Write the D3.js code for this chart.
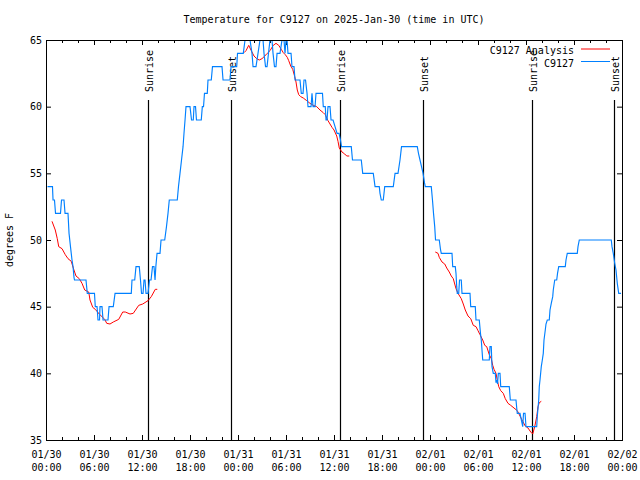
<!DOCTYPE html>
<html><head><meta charset="utf-8">
<script src="https://cdn.jsdelivr.net/npm/d3@7"></script>
<style>
body{margin:0;background:#fff}
text{font-family:"DejaVu Sans Mono","Liberation Mono",monospace;font-size:10px;fill:#000}
</style>
</head><body>
<svg id="chart" width="640" height="480"></svg>
<script>
const title = "Temperature for C9127 on 2025-Jan-30 (time in UTC)";
const yLabel = "degrees F";
const seriesNames = ["C9127 Analysis", "C9127"];
const startUTC = Date.UTC(2025, 0, 30, 0, 0);
const spanHours = 72;
const yTicks = [35, 40, 45, 50, 55, 60, 65];

// Observations (hours since 01/30 00:00 UTC, deg F)
const obsHours = [0.19,0.81,0.88,1.06,1.19,1.81,1.94,2.25,2.38,2.75,2.88,3.06,3.25,3.38,3.5,3.56,5.0,5.16,6.06,6.16,6.38,6.5,6.69,6.75,7.0,7.13,7.75,7.88,8.41,8.63,10.66,10.75,11.09,11.25,11.66,11.81,11.94,12.13,12.25,12.38,12.5,12.75,12.94,13.13,13.31,13.5,13.63,13.73,13.88,14.25,14.38,14.84,15.06,15.25,15.41,16.41,16.56,16.75,16.94,17.13,17.25,17.38,17.5,18.0,18.19,18.41,18.5,18.69,18.81,19.41,19.54,19.69,19.81,20.16,20.25,20.66,20.81,22.0,22.13,23.0,23.13,23.84,23.94,24.66,24.88,25.5,25.75,25.88,26.25,26.5,26.75,27.13,27.25,27.44,27.63,27.81,28.0,28.25,28.38,28.56,28.75,28.88,29.25,29.5,29.75,29.88,30.0,30.13,30.25,30.63,30.75,31.0,31.13,31.75,31.91,32.13,32.25,32.44,32.63,32.75,33.13,33.25,33.38,33.63,33.75,34.56,34.66,34.91,35.0,35.13,35.25,35.5,35.63,35.88,36.13,36.38,36.63,36.81,36.94,38.16,38.31,39.41,39.59,40.91,41.13,41.66,41.75,41.91,42.16,42.34,43.41,43.63,44.0,44.25,44.44,46.41,46.56,46.75,46.94,47.13,47.31,47.41,48.16,48.31,48.44,48.59,48.69,49.16,49.31,49.41,50.75,50.84,51.16,51.25,51.34,51.41,51.59,51.69,51.91,52.0,53.0,53.09,53.66,53.75,54.16,54.31,54.41,54.59,55.41,55.5,55.66,55.75,55.91,56.16,56.25,56.34,56.44,56.54,56.75,56.84,57.91,58.04,58.75,58.84,58.91,59.25,59.59,59.69,59.88,60.0,61.34,61.41,61.59,61.66,61.75,61.91,62.04,62.16,62.25,62.41,62.5,62.66,62.91,63.0,63.16,63.34,63.41,63.59,63.84,63.94,64.09,64.91,65.0,65.16,66.41,66.5,66.66,70.66,70.75,70.91,71.09,71.25,71.41,71.59,71.88];
const obsTemps = [54,54,53,53,52,52,53,53,52,52,50.5,49.5,48.5,48,47.2,47,47,46,46,45,45,44,44,45,45,44,44,45,45,46,46,47,47,48,48,47,46,46,47,47,46,46,47,47,48,48,47,48,49,49,50,50,51,52,53,53,54,55,56,57,58,59,60,60,59,59,60,60,59,59,60,60,61,61,62,62,63,63,62,62,63,63,64,64,65,65,64,63,63,64,65,65,64,63,63,64,65,65,64,63,63,64,64,65,65,64,65,65,64,64,63,63,62,62,61,61,62,62,61,60,60,61,60,60,61,61,60,60,59,59,60,60,59,59,58.5,58,58,57.5,57,57,56,56,55,55,54,54,53.5,53,53,54,54,55,55,56,57,57,56.5,56,55.5,55,54.3,54,54,53,52,51,50,50,49.3,49,49,48,48,47.5,46.5,46,46,47,47,46,46,45,45,44,44,43,42.5,41,41,42,42,40.5,40,40,39.3,39.5,39.2,40,40,39,39,38,38,37.4,37,37,36,37,37,36,36,36.75,38,39,39.5,40.5,41,41.5,42.5,43.25,43.7,44,44,44.75,45.25,45.75,46.25,47,47,47.5,48,48,48.5,49,49,49.5,50,50,49.5,49,48.25,47.75,46.75,46,46];

// Analysis (null = gap)
const anaHours = [0.75,1.16,1.41,1.59,2.0,2.41,2.75,3.16,3.41,3.75,4.16,4.5,4.84,5.34,5.5,5.84,6.16,6.66,7.0,7.34,7.59,8.0,8.41,9.09,9.59,9.91,10.5,10.91,11.59,12.09,12.75,13.16,13.66,13.91,null,24.75,25.0,25.34,25.66,26.0,26.34,26.66,27.0,27.34,27.66,28.0,28.41,28.75,29.09,29.41,29.66,29.91,30.16,30.34,30.59,30.84,31.09,31.25,31.41,31.59,31.84,32.16,32.59,33.0,33.41,33.84,34.25,34.66,34.91,35.25,35.5,35.75,36.0,36.34,36.5,36.66,37.0,37.34,37.59,37.91,null,48.66,49.0,49.16,49.5,49.84,50.09,50.41,50.66,50.91,51.09,51.25,51.5,51.91,52.16,52.41,52.75,53.09,53.41,53.75,54.0,54.25,54.59,54.84,55.09,55.41,55.66,55.84,56.0,56.25,56.41,56.59,56.84,57.16,57.41,57.75,58.09,58.5,58.91,59.25,59.59,59.91,60.25,60.59,60.84,61.09,61.34,61.5,61.66,61.91];
const anaTemps = [51.4,50.75,50.1,49.5,49.35,48.9,48.6,48.4,47.9,47.3,47.1,46.75,46.25,46.1,45.5,44.95,44.8,44.45,44.25,44.05,43.75,43.7,43.85,44.05,44.6,44.6,44.45,44.5,45.1,45.2,45.45,45.75,46.3,46.3,null,64.05,64.2,64.6,64.2,63.8,63.6,63.5,63.6,63.8,64.0,64.2,64.6,64.75,64.6,64.3,64.05,63.9,63.7,63.45,63.05,62.8,62.25,61.85,61.25,60.9,60.75,60.65,60.45,60.25,60.1,60.0,59.75,59.55,59.4,58.95,58.7,58.45,58.25,57.8,57.4,56.9,56.6,56.45,56.3,56.3,null,49.1,49.0,48.7,48.35,48.2,47.9,47.6,47.3,47.1,46.7,46.35,46.0,45.6,45.2,44.75,44.3,44.1,43.6,43.5,43.2,42.9,42.5,42.1,42.0,41.4,41.1,40.6,40.3,40.0,39.5,39.0,38.7,38.5,38.1,37.75,37.6,37.4,37.2,36.8,36.4,36.05,35.9,35.6,35.45,36.0,36.75,37.5,37.8,37.9];

// Sun events
const sunHours = [12.75, 23.15, 36.78, 47.15, 60.78, 71.04];
const sunLabels = ["Sunrise", "Sunset", "Sunrise", "Sunset", "Sunrise", "Sunset"];

const hToDate = h => new Date(startUTC + h * 3600e3);
const L = 46, R = 622, T = 40, B = 440;
const svg = d3.select("#chart");
const x = d3.scaleUtc().domain([hToDate(0), hToDate(spanHours)]).range([L, R]);
const y = d3.scaleLinear().domain([35, 65]).range([B, T]);

const t0 = hToDate(0), t1 = hToDate(spanHours);
const major = d3.utcHour.every(6).range(t0, new Date(+t1 + 1));
const minor = d3.utcHour.every(2).range(t0, new Date(+t1 + 1)).filter(d => d.getUTCHours() % 6 !== 0);

// minor ticks
svg.append("g").attr("transform", `translate(0,${B})`)
  .call(d3.axisBottom(x).tickValues(minor).tickSize(-3).tickFormat("").offset(0.5))
  .call(g => g.select(".domain").remove());
svg.append("g").attr("transform", `translate(0,${T})`)
  .call(d3.axisTop(x).tickValues(minor).tickSize(-3).tickFormat("").offset(0.5))
  .call(g => g.select(".domain").remove());

// major x ticks
const f1 = d3.utcFormat("%m/%d"), f2 = d3.utcFormat("%H:%M");
const gx = svg.append("g").attr("transform", `translate(0,${B})`)
  .call(d3.axisBottom(x).tickValues(major).tickSize(-5).tickFormat(f1).offset(0.5));
gx.select(".domain").remove();
gx.selectAll(".tick text").each(function(d) {
  const t = d3.select(this);
  t.text(null).attr("y", 18).attr("dy", null);
  t.append("tspan").attr("x", 0).text(f1(d));
  t.append("tspan").attr("x", 0).attr("dy", 13).text(f2(d));
});
svg.append("g").attr("transform", `translate(0,${T})`)
  .call(d3.axisTop(x).tickValues(major).tickSize(-5).tickFormat("").offset(0.5))
  .call(g => g.select(".domain").remove());

// y ticks
const gy = svg.append("g").attr("transform", `translate(${L},0)`)
  .call(d3.axisLeft(y).tickValues(yTicks).tickSize(-5).tickPadding(4).offset(0.5));
gy.select(".domain").remove();
svg.append("g").attr("transform", `translate(${R},0)`)
  .call(d3.axisRight(y).tickValues(yTicks).tickSize(-5).tickFormat("").offset(0.5))
  .call(g => g.select(".domain").remove());
svg.selectAll("g").attr("font-family", null).attr("font-size", null);
svg.selectAll(".tick line").attr("stroke", "#000");

// sun lines
const sun = svg.append("g");
sunHours.forEach((h, i) => {
  const xs = Math.round(x(hToDate(h))) + 0.5;
  sun.append("line").attr("x1", xs).attr("x2", xs).attr("y1", 100).attr("y2", B)
    .attr("stroke", "#000").attr("stroke-width", 1.2);
  sun.append("text").attr("transform", `translate(${xs + 4},92) rotate(-90)`)
    .attr("text-anchor", "start").text(sunLabels[i]);
});

// data lines
const anaData = anaHours.map((h, i) => ({h, v: anaTemps[i]}));
const obsData = obsHours.map((h, i) => ({h, v: obsTemps[i]}));
const line = d3.line().defined(d => d.h !== null && d.v !== null)
  .x(d => x(hToDate(d.h))).y(d => y(d.v));
svg.append("clipPath").attr("id", "clip").append("rect")
  .attr("x", L).attr("y", T).attr("width", R - L + 1).attr("height", B - T + 1);
svg.append("path").datum(anaData).attr("d", line).attr("fill", "none")
  .attr("stroke", "#ff0000").attr("stroke-width", 1).attr("clip-path", "url(#clip)");
svg.append("path").datum(obsData).attr("d", line).attr("fill", "none")
  .attr("stroke", "#0080ff").attr("stroke-width", 1.15).attr("clip-path", "url(#clip)");

// frame
svg.append("rect").attr("x", L + 0.5).attr("y", T + 0.5).attr("width", R - L).attr("height", B - T)
  .attr("fill", "none").attr("stroke", "#000").attr("stroke-width", 1);

// title & axis label
svg.append("text").attr("x", (L + R) / 2).attr("y", 23).attr("text-anchor", "middle").text(title);
svg.append("text").attr("transform", `translate(13,${(T + B) / 2}) rotate(-90)`)
  .attr("text-anchor", "middle").text(yLabel);

// legend
const legColors = ["#ff0000", "#0080ff"];
seriesNames.forEach((n, i) => {
  const ly = 54 + i * 12.5;
  svg.append("text").attr("x", 574).attr("y", ly).attr("text-anchor", "end").text(n);
  svg.append("line").attr("x1", 581).attr("x2", 610).attr("y1", ly - 5).attr("y2", ly - 5)
    .attr("stroke", legColors[i]).attr("stroke-width", 1);
});
</script>
</body></html>
